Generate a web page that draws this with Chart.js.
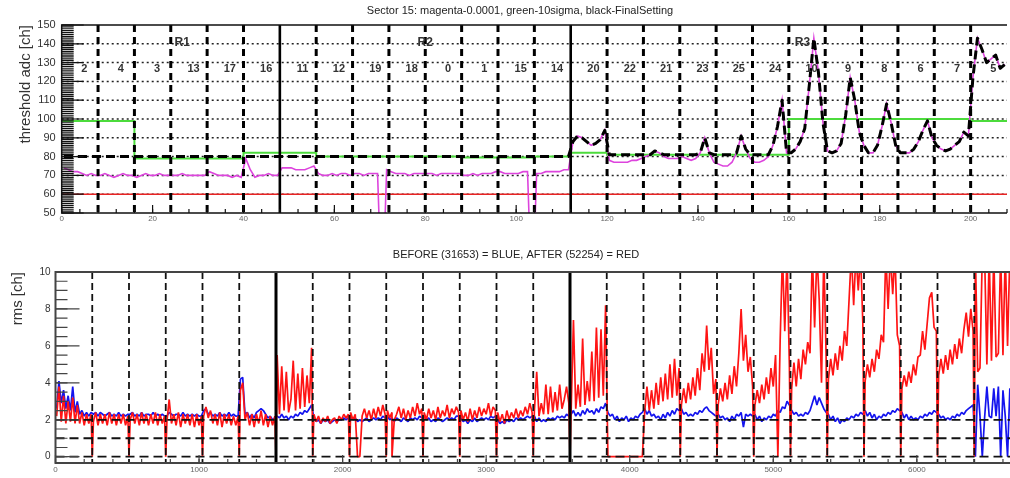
<!DOCTYPE html>
<html>
<head>
<meta charset="utf-8">
<title>Sector 15 thresholds and strip rms</title>
<script src="https://cdn.jsdelivr.net/npm/chart.js@4.4.1/dist/chart.umd.min.js"></script>
<style>
  html, body { margin: 0; padding: 0; background: #fff; width: 1010px; height: 478px; overflow: hidden; }
  canvas { position: absolute; left: 0; }
  #thr { top: 0; width: 1010px; height: 232px; }
  #rms { top: 236px; width: 1016px; height: 242px; }
</style>
</head>
<body>
<canvas id="thr" width="1010" height="232"></canvas>
<canvas id="rms" width="1016" height="242"></canvas>
<script>
// ---------- threshold panel: 8 channel groups per chip ----------
const chipNames = ['2','4','3','13','17','16','11','12','19','18','0','1','15','14',
                   '20','22','21','23','25','24','10','9','8','6','7','5'];
const regionNames = ['R1', 'R2', 'R3'];
const regionLabelPos = [26.5, 80, 163];
const regionBoundaries = [48, 112];
const groupsPerChip = 8;
const pedestalFloor = 60;
const thrTickValues = [0, 20, 40, 60, 80, 100, 120, 140, 160, 180, 200];

// magenta: occupancy 0.0001 threshold per channel group
const occupancyCut = [
  74,73,72,72,71,70,71,70,   70,71,70,69,70,71,70,70,   69,70,71,70,70,71,70,70,
  70,70,71,70,70,70,70,70,   72,71,70,70,70,69,70,69,   79,73,69,70,70,71,70,70,
  74,74,74,73,73,73,74,75,   71,70,70,71,70,71,71,70,   71,71,70,71,71,71,0,73,
  72,71,71,71,70,71,71,71,   71,71,70,71,71,71,71,71,   70,70,71,70,71,71,71,72,
  72,71,71,71,71,72,72,0,    71,71,72,72,72,72,73,73,
  88,91,90,88,86,87,89,94,   78,77,77,77,77,78,78,79,   80,81,83,82,80,79,79,79,
  80,79,78,79,82,90,82,77,   76,75,75,77,82,91,84,79,   77,77,78,80,86,96,110,82,
  82,84,88,95,118,143,125,98, 83,82,83,87,102,122,110,93, 86,82,82,86,96,108,98,86,
  82,82,82,84,88,94,99,90,   86,84,83,84,86,88,93,91,   122,143,137,130,132,134,127,129
];

// green: 10 sigma threshold per chip
const tenSigma = [99,99,79,79,79,82, 82,80,80,80,80,79.5,79.5,80,
                  82,81,81,81,81,81,100,100,100,100,100,99];

// black: final setting per channel group
const finalSetting = [
  80,80,80,80,80,80,80,80,  80,80,80,80,80,80,80,80,  80,80,80,80,80,80,80,80,
  80,80,80,80,80,80,80,80,  80,80,80,80,80,80,80,80,  80,80,80,80,80,80,80,80,
  80,80,80,80,80,80,80,80,  80,80,80,80,80,80,80,80,  80,80,80,80,80,80,80,80,
  80,80,80,80,80,80,80,80,  80,80,80,80,80,80,80,80,  80,80,80,80,80,80,80,80,
  80,80,80,80,80,80,80,80,  80,80,80,80,80,80,80,80,
  88,91,90,88,86,87,89,94,   81,81,81,81,81,81,81,81,   81,81,83,82,81,81,81,81,
  81,81,81,81,82,90,82,81,   81,81,81,81,82,91,84,81,   81,81,81,81,86,96,110,82,
  82,84,88,95,118,143,125,98, 83,82,83,87,102,122,110,93, 86,82,82,86,96,108,98,86,
  82,82,82,84,88,94,99,90,   86,84,83,84,86,88,93,91,   122,143,137,130,132,134,127,129
];

// ---------- rms panel: 256 strips per chip, values per 16-strip bin ----------
const stripsPerChip = 256;
const binWidth = 16;
const regionStripBoundaries = [1536, 3584];
const rmsRefLevels = [0, 1, 2];
const rmsTickValues = [0, 1000, 2000, 3000, 4000, 5000, 6000];

const blueR1 = [
  2.6,4.1,2.9,3.6,2.6,3.3,2.5,3.8,2.4,3.0,2.3,2.5,2.2,2.4,2.2,2.4,
  2.3,2.4,2.2,2.4,2.3,2.2,2.3,2.4,2.2,2.3,2.2,2.4,2.2,2.3,2.2,2.3,
  2.3,2.4,2.2,2.3,2.2,2.4,2.2,2.3,2.3,2.2,2.4,2.2,2.3,2.2,2.3,2.2,
  2.2,2.4,2.3,2.2,2.3,2.3,2.2,2.4,2.2,2.3,2.2,2.3,2.2,2.3,2.2,2.2,
  2.5,2.6,2.3,2.4,2.2,2.3,2.2,2.4,2.2,2.3,2.2,2.4,2.2,2.3,2.2,2.2,
  4.2,4.3,2.3,2.4,2.1,2.3,2.1,2.4,2.5,2.6,2.5,2.3,2.1,2.2,2.0,2.1
];
const blueR2 = [
  2.2,2.1,2.3,2.1,2.2,2.0,2.2,2.1,2.3,2.2,2.4,2.3,2.5,2.4,2.6,2.8,
  2.1,1.9,2.0,1.8,2.0,1.9,2.0,1.8,1.9,2.0,1.9,2.0,2.0,2.1,2.0,2.1,
  2.2,2.0,2.1,1.9,2.0,1.9,2.0,2.1,1.9,2.0,2.1,2.0,2.1,2.0,2.2,2.1,
  2.2,2.0,2.1,1.9,2.1,2.0,1.9,2.1,2.0,1.9,2.1,2.0,2.1,2.0,2.2,2.1,
  2.2,2.0,2.1,1.9,2.0,1.9,2.1,2.0,1.9,2.0,2.1,2.0,2.1,2.0,2.2,2.2,
  2.1,1.9,2.0,1.8,2.0,1.9,2.1,1.9,2.0,2.1,2.0,2.1,2.0,2.2,2.1,2.2,
  2.0,1.8,1.9,1.8,2.0,1.9,2.0,1.9,2.1,2.0,2.1,2.0,2.1,2.2,2.1,2.2,
  2.2,1.9,2.1,1.9,2.0,1.9,2.1,2.0,2.1,2.0,2.2,2.1,2.2,2.1,2.3,2.2
];
const blueR3 = [
  2.3,2.5,2.2,2.4,2.2,2.5,2.3,2.6,2.4,2.5,2.3,2.6,2.4,2.7,2.6,2.9,
  2.4,2.2,2.3,2.0,2.2,1.9,2.1,2.0,2.2,1.9,2.1,2.0,2.2,2.1,2.3,2.4,
  2.6,2.3,2.5,2.2,2.3,2.1,2.2,2.0,2.3,2.1,2.4,2.2,2.5,2.3,2.6,2.5,
  2.6,2.3,2.4,2.2,2.3,2.2,2.4,2.3,2.5,2.4,2.6,2.7,2.5,2.4,2.3,2.2,
  2.3,2.1,2.2,2.0,2.1,1.9,2.2,2.0,2.3,2.2,2.4,1.6,2.3,2.2,2.3,2.2,
  2.3,2.0,2.2,1.9,2.1,2.0,2.2,2.1,2.3,2.2,2.5,2.4,2.7,2.6,3.0,2.8,
  2.5,2.3,2.4,2.2,2.3,2.2,2.4,2.3,2.5,2.9,3.3,2.8,3.2,2.9,2.6,2.4,
  2.3,2.0,2.2,1.9,2.1,1.8,2.0,1.9,2.1,2.0,2.2,2.1,2.3,2.2,2.4,2.3,
  2.5,2.2,2.4,2.1,2.3,2.0,2.2,2.1,2.3,2.2,2.4,2.3,2.5,2.4,2.6,2.5,
  2.4,2.1,2.3,2.0,2.2,2.0,2.1,2.0,2.2,2.1,2.3,2.2,2.4,2.3,2.5,2.4,
  2.3,2.1,2.2,2.0,2.1,2.0,2.2,2.1,2.3,2.2,2.4,2.3,2.5,2.6,2.7,2.8,
  0,3.9,2.2,0,2.1,3.8,2.2,2.1,3.7,2.2,3.8,0,3.6,2.2,0,3.7
];

const redR1 = [
  2.2,3.8,1.9,3.3,1.8,3.0,1.9,3.2,1.8,2.8,1.8,2.4,1.7,2.3,1.8,2.3,
  1.9,2.4,1.7,2.3,1.8,2.3,1.7,2.4,1.8,2.3,1.7,2.3,1.8,2.3,1.7,2.2,
  2.0,2.4,1.8,2.3,1.7,2.4,1.8,2.3,1.7,2.3,1.8,2.4,1.7,2.3,1.8,2.2,
  1.9,3.1,1.8,2.3,1.7,2.4,1.6,2.3,1.8,2.3,1.7,2.3,1.6,2.3,1.7,2.2,
  2.2,2.7,2.1,2.5,1.8,2.3,1.7,2.4,1.6,2.3,1.8,2.3,1.7,2.2,1.7,2.2,
  3.6,4.0,2.0,2.4,1.7,2.3,1.6,2.3,1.8,2.5,1.7,2.3,1.6,2.2,1.7,2.2
];
const redR2 = [
  5.5,2.3,4.9,2.5,4.6,2.4,3.1,5.2,2.5,4.5,2.6,4.8,2.7,4.4,2.9,5.9,
  2.3,1.9,2.2,1.8,2.1,1.9,2.2,1.8,2.0,2.1,1.8,2.2,2.0,2.3,2.1,2.3,
  2.4,2.0,2.3,0,0,2.2,2.6,2.1,2.5,2.0,2.6,2.1,2.7,2.2,2.8,2.3,
  2.5,2.1,2.4,2.0,2.3,2.7,2.1,2.6,2.0,2.5,2.1,2.7,2.2,2.9,2.3,2.6,
  2.4,2.0,2.6,2.1,2.5,2.0,2.7,2.1,2.5,2.2,2.8,2.1,2.6,2.3,2.7,2.4,
  2.5,2.0,2.4,1.9,2.6,2.0,2.5,2.1,2.7,2.2,2.6,2.3,2.9,2.2,2.7,2.5,
  2.4,1.9,2.3,1.8,2.5,2.0,2.4,2.1,2.6,2.1,2.5,2.2,2.7,2.3,2.9,2.4,
  2.5,4.6,2.2,2.9,2.3,3.9,2.3,3.8,2.4,3.5,2.5,3.9,2.6,3.1,3.8,2.9
];
const redR3 = [
  2.5,7.4,2.6,3.9,2.7,6.4,2.8,4.1,3.0,5.7,3.0,7.0,3.2,6.9,3.3,8.2,
  0,0,0,0,0,0,0,0,0,0,0,0,0,0,0,0,
  2.4,3.8,2.5,3.6,2.6,4.0,2.8,4.3,3.0,4.5,3.1,5.0,3.2,5.3,3.3,4.8,
  2.8,3.7,2.9,4.0,3.1,4.3,3.3,4.8,3.6,5.6,4.6,7.1,4.7,5.9,3.4,4.2,
  2.8,3.7,3.0,4.0,3.1,4.4,3.4,4.9,3.8,5.6,8.0,5.2,6.6,4.6,5.4,3.8,
  2.8,3.6,2.9,3.9,3.1,4.3,3.4,4.8,3.8,5.5,0,6.3,11,6.8,11,5.0,
  3.7,5.1,3.8,5.3,4.2,5.8,5.0,6.2,5.6,11,7.0,11,8.5,4.0,11,5.5,
  4.2,5.3,4.4,5.6,4.7,6.0,5.2,6.8,6.0,8.5,11,8.2,11,9.0,11,7.2,
  4.1,5.0,4.3,5.3,4.6,5.8,5.3,6.6,6.2,11,8.0,11,8.8,11,6.6,6.0,
  3.7,4.4,3.8,4.6,4.0,5.0,4.4,5.4,5.5,6.8,5.8,7.2,8.6,8.9,7.0,6.8,
  4.4,5.3,4.5,5.5,4.7,5.8,5.0,6.1,5.3,6.4,5.6,6.9,7.8,6.5,8.0,6.8,
  11,4.6,4.8,11,11,5.0,11,5.2,11,5.4,5.6,11,5.5,11,6.0,11
];
// single strips read back as zero after the change
const redDeadStrips = [256,512,768,1024,1280,1536,1792,2048,2304,2344,2560,2816,3072,3328,3584,
                       4352,4608,4864,5120,5376,5632,5888,6144,6400];

const FONT = "'Liberation Sans', Arial, Helvetica, sans-serif";
Chart.defaults.font.family = FONT;

// ---------- helpers ----------
function groupPoints(values) {
  return values.map((v, i) => ({ x: i + 0.5, y: v }));
}
function stripPoints(parts, dead) {
  const vals = [].concat(...parts);
  const pts = vals.map((v, i) => ({ x: i * binWidth + binWidth / 2, y: v }));
  (dead || []).forEach(s => pts.push({ x: s, y: 0 }));
  pts.sort((a, b) => a.x - b.x);
  return pts;
}
function fixedTicks(values) {
  return scale => { scale.ticks = values.map(v => ({ value: v })); };
}

// frame, inner ticks, separators and annotations drawn through the chart scales
function drawLines(chart, spec) {
  const { ctx, chartArea: a } = chart;
  const xs = chart.scales.x, ys = chart.scales.y;
  ctx.save();
  ctx.beginPath();
  ctx.rect(a.left, a.top, a.right - a.left, a.bottom - a.top);
  ctx.clip();
  const hLines = (spec.hLines || []).slice();
  if (spec.tickGrid) {
    ys.ticks.forEach(t => {
      if (t.value > ys.min && t.value < ys.max) hLines.push(Object.assign({ value: t.value }, spec.tickGrid));
    });
  }
  hLines.forEach(l => {
    const py = ys.getPixelForValue(l.value);
    ctx.beginPath();
    ctx.setLineDash(l.dash || []);
    ctx.lineWidth = l.width;
    ctx.strokeStyle = l.color || '#000';
    ctx.moveTo(a.left, py); ctx.lineTo(a.right, py);
    ctx.stroke();
  });
  (spec.vLines || []).forEach(l => {
    const px = xs.getPixelForValue(l.value);
    ctx.beginPath();
    ctx.setLineDash(l.dash || []);
    ctx.lineWidth = l.width;
    ctx.strokeStyle = l.color || '#000';
    ctx.moveTo(px, a.top); ctx.lineTo(px, a.bottom);
    ctx.stroke();
  });
  ctx.restore();
}

const panelDecor = {
  id: 'panelDecor',
  beforeDatasetsDraw(chart, args, o) { drawLines(chart, o.under || {}); },
  afterDatasetsDraw(chart, args, o) {
    drawLines(chart, o.over || {});
    const { ctx, chartArea: a } = chart;
    const xs = chart.scales.x, ys = chart.scales.y;
    ctx.save();
    ctx.setLineDash([]);
    ctx.strokeStyle = o.frame.color;
    ctx.lineWidth = o.frame.width;
    ctx.beginPath();
    ctx.moveTo(a.right, a.top); ctx.lineTo(a.left, a.top);
    ctx.lineTo(a.left, a.bottom); ctx.lineTo(a.right, a.bottom);
    ctx.stroke();

    ctx.lineWidth = o.frame.tickWidth;
    const marks = (scale, step, len, vertical) => {
      const first = Math.ceil(scale.min / step - 1e-9);
      const last = Math.floor(scale.max / step + 1e-9);
      ctx.beginPath();
      for (let i = first; i <= last; i++) {
        const p = scale.getPixelForValue(i * step);
        if (vertical) { ctx.moveTo(a.left, p); ctx.lineTo(a.left + len, p); }
        else { ctx.moveTo(p, a.bottom); ctx.lineTo(p, a.bottom - len); }
      }
      ctx.stroke();
    };
    marks(ys, o.yTicks.minor, o.yTicks.minorLen, true);
    marks(ys, o.yTicks.major, o.yTicks.majorLen, true);
    marks(xs, o.xTicks.minor, o.xTicks.minorLen, false);
    marks(xs, o.xTicks.major, o.xTicks.majorLen, false);

    (o.texts || []).forEach(t => {
      ctx.font = t.font;
      ctx.fillStyle = t.color || '#222';
      ctx.textAlign = 'center';
      ctx.textBaseline = 'middle';
      const px = t.px !== undefined ? t.px : xs.getPixelForValue(t.x);
      const py = t.py !== undefined ? t.py : ys.getPixelForValue(t.y);
      ctx.fillText(t.text, px, py);
    });
    ctx.restore();
  }
};

const noHover = { legend: { display: false }, tooltip: { enabled: false } };

// ---------- threshold panel ----------
const nGroups = chipNames.length * groupsPerChip;
const groupEdges = [];
for (let k = 1; k < chipNames.length; k++) {
  const v = k * groupsPerChip;
  groupEdges.push(regionBoundaries.includes(v)
    ? { value: v, width: 2.6, color: '#000' }
    : { value: v, width: 3, dash: [7, 5], color: '#000' });
}
const tenSigmaPts = tenSigma.map((v, k) => ({ x: k * groupsPerChip, y: v }));
tenSigmaPts.push({ x: nGroups, y: tenSigma[tenSigma.length - 1] });

const thrTexts = [
  { text: 'Sector 15: magenta-0.0001, green-10sigma, black-FinalSetting', px: 520, py: 10.5, font: '11px ' + FONT, color: '#222' }
];
regionNames.forEach((r, i) => thrTexts.push({ text: r, x: regionLabelPos[i], y: 140.8, font: 'bold 12px ' + FONT, color: '#333' }));
chipNames.forEach((c, k) => thrTexts.push({ text: c, x: k * groupsPerChip + 5, y: 126.6, font: 'bold 11px ' + FONT, color: '#333' }));

new Chart(document.getElementById('thr'), {
  type: 'line',
  data: {
    datasets: [
      { label: 'FinalSetting', data: groupPoints(finalSetting), borderColor: '#000', borderWidth: 3,
        borderDash: [9, 5], pointRadius: 0, tension: 0, clip: 0, borderJoinStyle: 'round' },
      { label: 'magenta-0.0001', data: groupPoints(occupancyCut), borderColor: '#dd44dd', borderWidth: 1.6,
        pointRadius: 0, tension: 0, clip: 0 },
      { label: 'green-10sigma', data: tenSigmaPts, stepped: 'before', borderColor: '#4cdb3c', borderWidth: 2,
        pointRadius: 0, clip: 0 },
      { label: 'floor', data: [{ x: 0, y: pedestalFloor }, { x: nGroups, y: pedestalFloor }],
        borderColor: '#e82323', borderWidth: 1.6, pointRadius: 0, clip: 0 }
    ]
  },
  options: {
    responsive: false, animation: false, events: [],
    layout: { padding: { top: 25, right: 3, left: 0, bottom: 0 } },
    scales: {
      x: { type: 'linear', min: 0, max: nGroups,
           grid: { display: false, drawTicks: false }, border: { display: false },
           afterBuildTicks: fixedTicks(thrTickValues),
           ticks: { autoSkip: false, maxRotation: 0, padding: 1,
                    font: { size: 8 }, color: '#666', callback: v => String(v) },
           afterFit: s => { s.height = 19; } },
      y: { min: 50, max: 150,
           grid: { display: false, drawTicks: false }, border: { display: false },
           ticks: { stepSize: 10, padding: 6, font: { size: 11 }, color: '#333', callback: v => String(v) },
           title: { display: true, text: 'threshold adc [ch]', align: 'end', font: { size: 15 }, color: '#333',
                    padding: { top: 17, bottom: 0 } },
           afterFit: s => { s.width = 61.7; } }
    },
    plugins: Object.assign({}, noHover, {
      panelDecor: {
        under: { tickGrid: { dash: [2, 3], width: 1.5, color: '#222' } },
        over: { vLines: groupEdges },
        frame: { color: '#111', width: 1.5, tickWidth: 1.2 },
        yTicks: { minor: 1, minorLen: 12, major: 10, majorLen: 22 },
        xTicks: { minor: 4, minorLen: 4, major: 20, majorLen: 8 },
        texts: thrTexts
      }
    })
  },
  plugins: [panelDecor]
});

// ---------- rms panel ----------
const nStrips = chipNames.length * stripsPerChip;
const stripEdges = [];
for (let k = 1; k < chipNames.length; k++) {
  const v = k * stripsPerChip;
  stripEdges.push(regionStripBoundaries.includes(v)
    ? { value: v, width: 3, color: '#000' }
    : { value: v, width: 1.8, dash: [7, 4], color: '#111' });
}
const refLines = rmsRefLevels.map(v => ({ value: v, width: 1.8, dash: [9, 5], color: '#111' }));

new Chart(document.getElementById('rms'), {
  type: 'line',
  data: {
    datasets: [
      { label: 'AFTER (52254)', data: stripPoints([redR1, redR2, redR3], redDeadStrips), borderColor: '#ff1414',
        borderWidth: 1.7, pointRadius: 0, tension: 0, clip: 0, borderJoinStyle: 'bevel' },
      { label: 'BEFORE (31653)', data: stripPoints([blueR1, blueR2, blueR3]), borderColor: '#1414ee',
        borderWidth: 1.7, pointRadius: 0, tension: 0, clip: 0, borderJoinStyle: 'bevel' }
    ]
  },
  options: {
    responsive: false, animation: false, events: [],
    layout: { padding: { top: 36, right: 5, left: 0, bottom: 0 } },
    scales: {
      x: { type: 'linear', min: 0, max: nStrips,
           grid: { display: false, drawTicks: false }, border: { display: false },
           afterBuildTicks: fixedTicks(rmsTickValues),
           ticks: { autoSkip: false, maxRotation: 0, padding: 2,
                    font: { size: 8 }, color: '#666', callback: v => String(v) },
           afterFit: s => { s.height = 15; } },
      y: { min: -0.34, max: 10,
           grid: { display: false, drawTicks: false }, border: { display: false },
           ticks: { stepSize: 2, padding: 5, includeBounds: false, font: { size: 10 }, color: '#333',
                    callback: v => String(v) },
           title: { display: true, text: 'rms [ch]', align: 'end', font: { size: 15 }, color: '#333',
                    padding: { top: 8.5, bottom: 0 } },
           afterFit: s => { s.width = 55.5; } }
    },
    plugins: Object.assign({}, noHover, {
      panelDecor: {
        over: { vLines: stripEdges, hLines: refLines },
        frame: { color: '#444', width: 2, tickWidth: 1.2 },
        yTicks: { minor: 0.5, minorLen: 12, major: 2, majorLen: 24 },
        xTicks: { minor: 200, minorLen: 4, major: 1000, majorLen: 8 },
        texts: [{ text: 'BEFORE (31653) = BLUE, AFTER (52254) = RED', px: 516, py: 19, font: '11px ' + FONT, color: '#222' }]
      }
    })
  },
  plugins: [panelDecor]
});
</script>
</body>
</html>
